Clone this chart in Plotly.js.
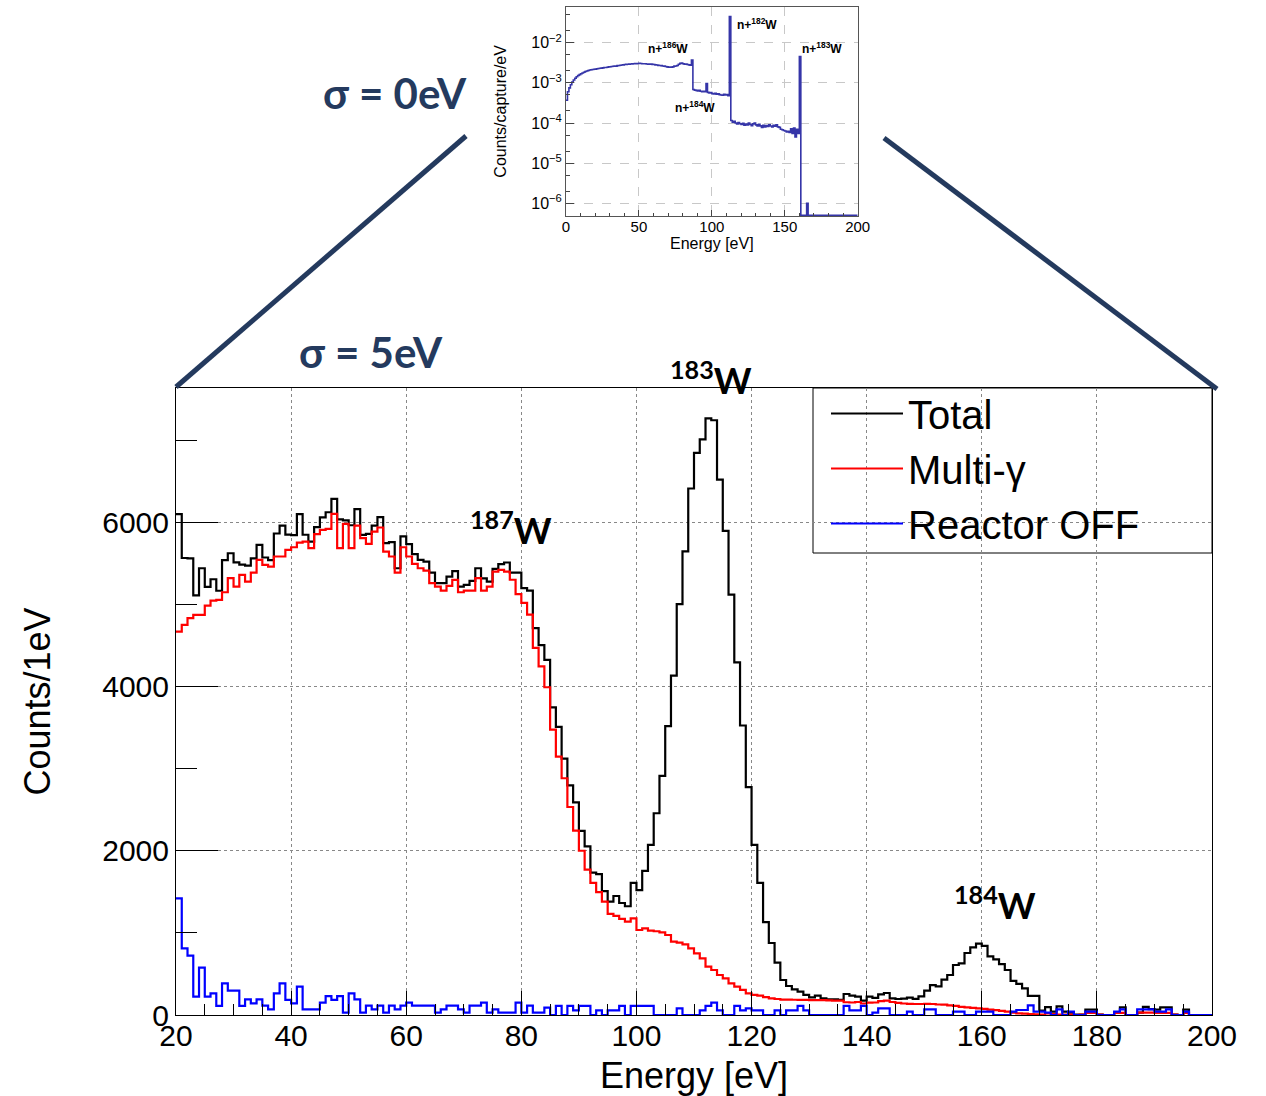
<!DOCTYPE html>
<html>
<head>
<meta charset="utf-8">
<script src="https://cdn.plot.ly/plotly-3.0.1.min.js"></script>
<style>html,body{margin:0;padding:0;background:#fff}</style>
</head>
<body>
<div id="chart" style="width:1266px;height:1096px"></div>
<script>
// ---------------- data (1 eV bins) ----------------
const mainBinStart = 20;   // first bin lower edge, eV
const mainBinWidth = 1;    // eV

const totalCounts = [
  6100,5565,5560,5110,5440,5213,5306,5166,5538,5623,
  5511,5485,5471,5560,5725,5571,5538,5863,5960,5850,
  5843,6098,5848,5765,5940,6060,6122,6285,6035,6023,
  5964,6159,5846,5859,5960,6062,5745,5757,5440,5828,
  5735,5612,5542,5521,5386,5258,5258,5338,5406,5217,
  5237,5286,5440,5318,5278,5432,5490,5510,5388,5388,
  5197,5168,4710,4503,4324,3745,3508,3122,2795,2588,
  2243,2054,1733,1715,1508,1380,1449,1364,1324,1608,
  1521,1755,2072,2457,2912,3518,4132,5004,5645,6411,
  6846,7010,7264,7242,6519,5895,5118,4294,3525,2775,
  2071,1608,1131,877,637,426,353,313,284,244,
  215,235,203,191,191,183,256,235,223,175,
  223,209,250,268,203,195,199,211,197,226,
  296,365,349,430,487,609,629,755,824,869,
  842,714,678,619,548,416,380,325,233,233,
  55,97,41,105,40,30,5,5,66,66,
  5,0,0,25,94,0,0,30,99,71,
  66,94,94,5,0,66,0,0,0,0
];

const multiGammaCounts = [
  4669,4750,4832,4872,4872,4986,5047,5055,5148,5319,
  5217,5359,5278,5388,5542,5481,5461,5583,5583,5664,
  5696,5753,5765,5684,5855,5907,5920,6102,5684,5980,
  5684,5960,5806,5737,5887,5936,5643,5583,5388,5696,
  5583,5493,5440,5412,5258,5217,5168,5225,5298,5148,
  5168,5168,5319,5168,5217,5400,5420,5400,5300,5125,
  5018,4875,4470,4245,3991,3475,3146,2883,2533,2245,
  2000,1770,1608,1496,1380,1232,1206,1171,1137,1177,
  1035,1056,1027,1020,1007,974,893,881,861,812,
  751,690,589,548,487,447,386,345,305,264,
  244,235,218,203,195,188,188,186,184,183,
  181,180,180,178,176,175,155,152,158,140,
  150,152,168,175,158,148,140,136,134,134,
  136,134,128,126,118,110,100,93,86,81,
  75,65,60,50,42,30,20,16,12,8,
  5,20,10,5,5,5,0,5,25,25,
  5,0,0,25,25,0,0,30,30,30,
  25,25,25,5,0,25,0,0,0,0
];

const reactorOffCounts = [
  1421,812,723,223,576,223,264,110,386,296,
  296,110,191,142,191,114,69,264,386,183,
  142,345,69,69,69,150,231,183,231,28,
  264,191,28,114,69,114,28,114,69,114,
  150,114,114,114,114,28,69,114,114,69,
  28,114,114,150,28,69,28,28,28,150,
  28,114,28,28,90,0,110,0,110,57,
  110,110,0,57,0,57,57,110,0,110,
  110,110,110,0,0,0,0,81,0,0,
  0,57,110,150,57,0,0,110,57,81,
  57,57,0,0,57,0,57,57,110,57,
  0,0,0,0,0,0,110,57,57,110,
  0,28,81,81,0,0,0,41,0,0,
  69,69,0,0,0,41,41,0,0,41,
  41,41,0,0,0,41,61,61,118,41,
  41,28,0,69,0,41,0,0,41,41,
  0,0,0,41,69,0,0,69,69,69,
  41,41,69,0,0,41,0,0,0,0
];

// inset: sigma = 0 eV spectrum, counts/capture/eV, 1 eV bins from 0 eV
const insetBinStart = 0;
const insetBinWidth = 1;
const insetValues = [
  3.7e-4,6.0e-4,7.5e-4,9.0e-4,1.05e-3,1.18e-3,1.3e-3,1.42e-3,1.52e-3,1.6e-3,
  1.68e-3,1.76e-3,1.84e-3,1.92e-3,1.98e-3,2.03e-3,2.08e-3,2.12e-3,2.15e-3,2.18e-3,
  2.2e-3,2.25e-3,2.28e-3,2.3e-3,2.33e-3,2.36e-3,2.4e-3,2.42e-3,2.45e-3,2.5e-3,
  2.52e-3,2.55e-3,2.58e-3,2.62e-3,2.6e-3,2.68e-3,2.7e-3,2.74e-3,2.78e-3,2.8e-3,
  2.85e-3,2.88e-3,2.9e-3,2.93e-3,2.95e-3,2.97e-3,3.0e-3,3.02e-3,3.0e-3,3.03e-3,
  3.05e-3,3.02e-3,3.0e-3,2.98e-3,3.0e-3,2.95e-3,2.93e-3,2.9e-3,2.92e-3,2.88e-3,
  2.85e-3,2.8e-3,2.78e-3,2.72e-3,2.7e-3,2.68e-3,2.62e-3,2.6e-3,2.55e-3,2.5e-3,
  2.45e-3,2.48e-3,2.45e-3,2.5e-3,2.6e-3,2.62e-3,2.7e-3,2.9e-3,3.05e-3,3.1e-3,
  3.0e-3,2.9e-3,2.95e-3,2.85e-3,2.8e-3,2.75e-3,3.7e-3,6.8e-4,6.6e-4,6.5e-4,
  6.3e-4,6.5e-4,6.2e-4,6.0e-4,6.2e-4,6.0e-4,9.6e-4,5.8e-4,5.6e-4,5.7e-4,
  5.4e-4,5.3e-4,5.5e-4,5.2e-4,5.3e-4,5.1e-4,5.0e-4,4.9e-4,5.2e-4,5.0e-4,
  5.1e-4,4.8e-4,4.5e-2,1.15e-4,1.05e-4,1.1e-4,1.0e-4,9.5e-5,1.02e-4,9.6e-5,
  9.2e-5,9.8e-5,8.8e-5,9.4e-5,9.0e-5,1.0e-4,9.2e-5,8.6e-5,9.5e-5,1.0e-4,
  9.0e-5,8.4e-5,9.3e-5,8.5e-5,7.8e-5,8.8e-5,8.0e-5,8.6e-5,8.2e-5,9.0e-5,
  8.4e-5,8.0e-5,8.8e-5,8.3e-5,9.0e-5,8.0e-5,7.8e-5,7.0e-5,6.8e-5,6.5e-5,
  6.3e-5,6.0e-5,6.2e-5,5.8e-5,7.2e-5,5.5e-5,7.5e-5,4.5e-5,7.0e-5,5.5e-5,
  4.5e-3,0,0,0,0,1e-6,0,0,0,0,
  0,0,0,0,0,0,0,0,0,0,
  0,0,0,0,0,0,0,0,0,0,
  0,0,0,0,0,0,0,0,0,0
];
const insetZeroDisplay = 5e-7;   // empty bins drawn on the lower frame (as ROOT does)

const seriesNames = ['Total', 'Multi-\u03b3', 'Reactor OFF'];
const seriesColors = ['#000000', '#ff0000', '#0000ff'];
const insetPeakLabels = ['n+<sup>186</sup>W','n+<sup>184</sup>W','n+<sup>182</sup>W','n+<sup>183</sup>W'];
const insetPeakPos = [[70.1,-2.125],[88.5,-3.609],[130.7,-1.534],[175.3,-2.125]];
const mainPeakLabels = ['<sup>187</sup>W','<sup>183</sup>W','<sup>184</sup>W'];
const mainPeakPx = [[511,528],[711,378],[995,903]];   // label centres, page pixels

// ---------------- helpers ----------------
function stepXY(values, start, width, zeroVal) {
  const x = [], y = [];
  for (let i = 0; i < values.length; i++) {
    x.push(start + i * width);
    y.push(zeroVal !== undefined && values[i] <= 0 ? zeroVal : values[i]);
  }
  x.push(start + values.length * width);
  y.push(y[y.length - 1]);
  return {x, y};
}

const mainSeries = [totalCounts, multiGammaCounts, reactorOffCounts];
const traces = mainSeries.map((vals, k) => {
  const s = stepXY(vals, mainBinStart, mainBinWidth);
  return {
    type: 'scatter', mode: 'lines', x: s.x, y: s.y,
    line: {shape: 'hv', color: seriesColors[k], width: 2.2},
    name: seriesNames[k], xaxis: 'x', yaxis: 'y', hoverinfo: 'x+y'
  };
});
const ins = stepXY(insetValues, insetBinStart, insetBinWidth, insetZeroDisplay);
traces.push({
  type: 'scatter', mode: 'lines', x: ins.x, y: ins.y,
  line: {shape: 'hv', color: '#3535a8', width: 1.6},
  xaxis: 'x2', yaxis: 'y2', showlegend: false, name: '\u03c3 = 0eV'
});

const FONT = 'Liberation Sans, Arial, sans-serif';
const NAVY = '#243a5e';

// geometry helpers (plot area: x 176..1212 px, y 4..1015 px)
const PX = p => (p - 176) / 1036;
const PY = p => (1015 - p) / 1011;

const annotations = [];
annotations.push({xref:'paper', yref:'paper', x: PX(395), y: PY(93), xanchor:'center', yanchor:'middle',
  text:'\u03c3 = 0eV', showarrow:false,
  font:{family:'Lato, sans-serif', size:42, color:NAVY, weight:700}});
annotations.push({xref:'paper', yref:'paper', x: PX(371), y: PY(352), xanchor:'center', yanchor:'middle',
  text:'\u03c3 = 5eV', showarrow:false,
  font:{family:'Lato, sans-serif', size:42, color:NAVY, weight:700}});
mainPeakLabels.forEach((t, i) => annotations.push({
  xref:'paper', yref:'paper', x: PX(mainPeakPx[i][0]), y: PY(mainPeakPx[i][1]),
  xanchor:'center', yanchor:'middle', text: t, showarrow:false,
  font:{family:'Lato, sans-serif', size:36, color:'#000', weight:700}
}));
insetPeakLabels.forEach((t, i) => annotations.push({
  xref:'x2', yref:'y2', x: insetPeakPos[i][0], y: insetPeakPos[i][1],
  xanchor:'center', yanchor:'middle', text: t, showarrow:false,
  font:{family:FONT, size:12, color:'#000', weight:700}
}));

const shapes = [
  {type:'line', xref:'paper', yref:'paper', x0: PX(176), y0: PY(387), x1: PX(466), y1: PY(136),
   line:{color:NAVY, width:5}},
  {type:'line', xref:'paper', yref:'paper', x0: PX(884), y0: PY(138), x1: PX(1217), y1: PY(389),
   line:{color:NAVY, width:5}},
  {type:'rect', xref:'paper', yref:'paper', x0: PX(813), x1: 1, y0: PY(553), y1: PY(388),
   fillcolor:'#ffffff', line:{color:'#000', width:1}, layer:'between'}
];

const layout = {
  width: 1266, height: 1096,
  margin: {l:176, r:54, t:4, b:81},
  paper_bgcolor: '#fff', plot_bgcolor: 'rgba(0,0,0,0)',
  font: {family: FONT, color: '#000'},
  showlegend: true,
  legend: {x: PX(826), y: PY(381), xanchor:'left', yanchor:'top',
    bgcolor:'rgba(0,0,0,0)', borderwidth:0,
    font:{family:FONT, size:40, color:'#000'}, itemwidth:72},
  xaxis: {
    domain:[0,1], range:[20,200], anchor:'y',
    tick0:20, dtick:20, ticks:'inside', ticklen:24, tickwidth:1, tickcolor:'#000',
    minor:{dtick:5, ticks:'inside', ticklen:11, tickcolor:'#000', showgrid:false},
    showline:true, linecolor:'#000', linewidth:1, mirror:true,
    showgrid:true, gridcolor:'#888', griddash:'dot', gridwidth:1, zeroline:false,
    tickfont:{family:FONT, size:30, color:'#000'}, ticklabelstandoff:-6,
    title:{text:'Energy [eV]', font:{family:FONT, size:36, color:'#000'}, standoff:12}
  },
  yaxis: {
    domain:[0, PY(388)], range:[0, 7635], anchor:'x',
    tick0:0, dtick:2000, ticks:'inside', ticklen:42, tickwidth:1, tickcolor:'#000',
    minor:{dtick:1000, ticks:'inside', ticklen:21, tickcolor:'#000', showgrid:false},
    showline:true, linecolor:'#000', linewidth:1, mirror:true,
    showgrid:true, gridcolor:'#888', griddash:'dot', gridwidth:1, zeroline:false,
    tickfont:{family:FONT, size:30, color:'#000'},
    title:{text:'Counts/1eV', font:{family:FONT, size:36, color:'#000'}, standoff:40}
  },
  xaxis2: {
    domain:[PX(566), PX(857.7)], range:[0,200], anchor:'y2',
    tick0:0, dtick:50, ticks:'inside', ticklen:6, tickcolor:'#444',
    minor:{dtick:10, ticks:'inside', ticklen:3, tickcolor:'#444', showgrid:false},
    showline:true, linecolor:'#555', linewidth:1, mirror:true,
    showgrid:true, gridcolor:'#c8c8c8', griddash:'dash', gridwidth:1, zeroline:false,
    tickfont:{family:FONT, size:15, color:'#000'}, ticklabelstandoff:-3,
    title:{text:'Energy [eV]', font:{family:FONT, size:16, color:'#000'}, standoff:2}
  },
  yaxis2: {
    domain:[PY(216), PY(6.7)], type:'log', range:[-6.316, -1.104], anchor:'x2',
    tickvals:[1e-6,1e-5,1e-4,1e-3,1e-2],
    ticktext:['10<sup>\u22126</sup>','10<sup>\u22125</sup>','10<sup>\u22124</sup>','10<sup>\u22123</sup>','10<sup>\u22122</sup>'],
    ticks:'inside', ticklen:8, tickcolor:'#444',
    minor:{ticks:'inside', ticklen:4, tickcolor:'#444', showgrid:false},
    showline:true, linecolor:'#555', linewidth:1, mirror:true,
    showgrid:true, gridcolor:'#c8c8c8', griddash:'dash', gridwidth:1, zeroline:false,
    tickfont:{family:FONT, size:16, color:'#000'},
    title:{text:'Counts/capture/eV', font:{family:FONT, size:16, color:'#000'}, standoff:20}
  },
  annotations: annotations,
  shapes: shapes
};

Plotly.newPlot('chart', traces, layout, {displayModeBar:false, staticPlot:true});
</script>
</body>
</html>
